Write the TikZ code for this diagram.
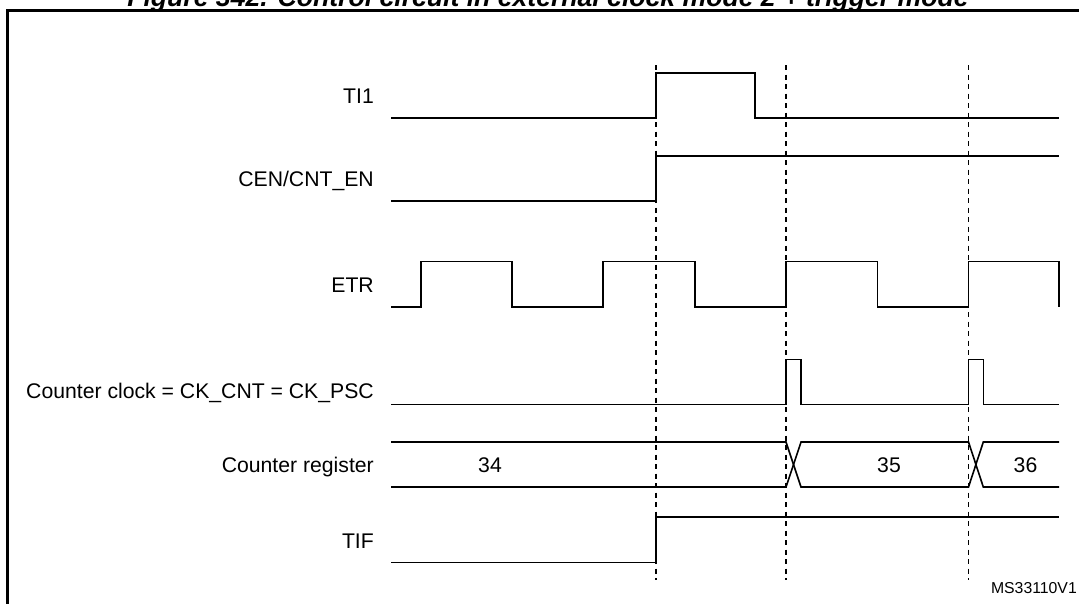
\documentclass[tikz,border=0pt]{standalone}
\usepackage{fontspec}
\setmainfont{Liberation Sans}
\begin{document}
\begin{tikzpicture}[x=1pt,y=-1pt,
  sig/.style={line width=1.6pt,line join=miter,line cap=butt},
  guide/.style={line width=1.4pt,dash pattern=on 5pt off 4.5pt},
  lbl/.style={anchor=base east,font=\fontsize{21.2}{25}\selectfont,inner sep=0pt},
  val/.style={anchor=base,font=\fontsize{21.2}{25}\selectfont,inner sep=0pt}]
\useasboundingbox (0,0) rectangle (1079,603);
\clip (0,0) rectangle (1079,603);
% title (cut off at the top)
\node[anchor=base,inner sep=0pt,font=\bfseries\itshape\fontsize{26.6}{30}\selectfont] (title) at (548,6) {Figure 342. Control circuit in external clock mode 2 + trigger mode};
% frame
\draw[line width=2.5pt] (7.3,610) -- (7.3,10.5) -- (1085,10.5);
% labels
\node[lbl] (lti) at (374,103) {TI1};
\node[lbl] (lcen) at (374,186) {CEN/CNT\_EN};
\node[lbl] (letr) at (374,292) {ETR};
\node[lbl] (lclk) at (374,398) {Counter clock = CK\_CNT = CK\_PSC};
\node[lbl] (lreg) at (374,472.5) {Counter register};
\node[lbl] (ltif) at (374,548.7) {TIF};
% guide lines
\foreach \gx in {656,786,968.5} \draw[guide] (\gx,65) -- (\gx,580);
% TI1
\draw[sig] (391,118) -- (656,118) -- (656,72.7) -- (755,72.7) -- (755,118) -- (1059,118);
% CEN
\draw[sig] (391,200.7) -- (656,200.7) -- (656,155.7) -- (1059,155.7);
% ETR
\draw[sig] (391,306.7) -| (421,261.3) -| (512,306.7) -| (603,261.3) -| (695,306.7) -| (786,261.3) -| (877.5,306.7) -| (968.5,261.3) -| (1059,306.7);
% counter clock
\draw[sig] (391,404.3) -| (786,359.3) -| (801,404.3) -| (968.5,359.3) -| (983.3,404.3) -- (1059,404.3);
% counter register bus
\draw[sig] (391,442) -- (786,442) -- (801,487) -- (968.5,487) -- (983.3,442) -- (1059,442);
\draw[sig] (391,487) -- (786,487) -- (801,442) -- (968.5,442) -- (983.3,487) -- (1059,487);
\node[val] (v34) at (490,472.5) {34};
\node[val] (v35) at (889,472.5) {35};
\node[val] (v36) at (1025.5,472.5) {36};
% TIF
\draw[sig] (391,562.5) -- (656,562.5) -- (656,517) -- (1059,517);
% reference
\node[anchor=base east,inner sep=0pt,font=\fontsize{15.8}{18}\selectfont] (ref) at (1077,593.7) {MS33110V1};
\end{tikzpicture}
\end{document}
